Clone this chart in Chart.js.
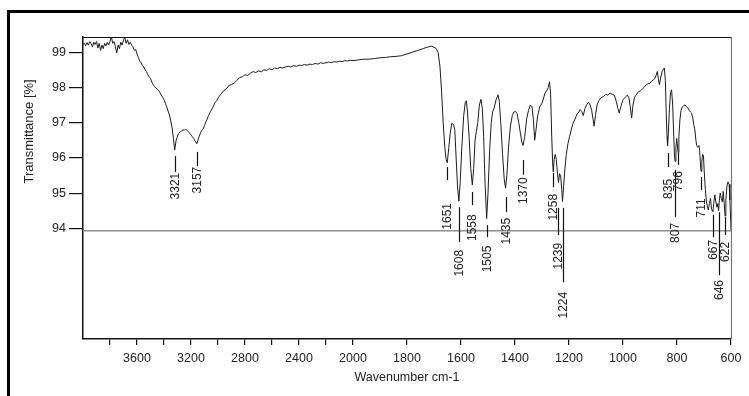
<!DOCTYPE html>
<html>
<head>
<meta charset="utf-8">
<script src="https://cdn.jsdelivr.net/npm/chart.js@4.4.1/dist/chart.umd.min.js"></script>
<style>
  html, body { margin: 0; padding: 0; background: #ffffff; }
  #wrap { width: 749px; height: 396px; position: relative; }
</style>
</head>
<body>
<div id="wrap"><canvas id="c" width="749" height="396"></canvas></div>
<script>
// ---- DATA ----
const wavenumbers = [
  4000,3990,3980,3970,3960,3950,3940,3930,3920,3910,3900,3890,3880,3870,3860,3850,3840,3830,3820,3810,
  3800,3790,3780,3770,3760,3750,3740,3730,3720,3710,3700,3690,3680,3670,3660,3650,3640,3630,3620,3610,
  3600,3590,3580,3570,3560,3550,3540,3530,3520,3510,3500,3490,3480,3470,3460,3450,3440,3430,3420,3410,
  3400,3390,3380,3370,3360,3350,3340,3330,3321,3310,3300,3290,3280,3270,3260,3250,3240,3230,3220,3210,
  3200,3190,3180,3170,3157,3150,3140,3130,3120,3110,3100,3090,3080,3070,3060,3050,3040,3030,3020,3010,
  3000,2980,2960,2940,2920,2900,2880,2860,2840,2820,2800,2780,2760,2740,2720,2700,2680,2660,2640,2620,
  2600,2580,2560,2540,2520,2500,2480,2460,2440,2420,2400,2380,2360,2340,2320,2300,2280,2260,2240,2220,
  2200,2180,2160,2140,2120,2100,2080,2060,2040,2020,2000,1980,1960,1940,1920,1900,1880,1860,1840,1820,
  1800,1780,1760,1740,1730,1720,1710,1700,1692,1685,1678,1672,1666,1660,1655,1651,1645,1640,1634,1628,
  1623,1618,1613,1608,1603,1597,1590,1584,1580,1576,1570,1564,1558,1553,1548,1543,1538,1532,1526,1521,
  1516,1511,1505,1500,1494,1488,1483,1477,1470,1463,1458,1452,1446,1440,1435,1430,1424,1417,1410,1404,
  1398,1392,1386,1380,1375,1370,1364,1357,1350,1343,1337,1332,1327,1322,1316,1308,1300,1294,1289,1283,
  1277,1272,1268,1264,1260,1258,1255,1251,1247,1243,1239,1235,1231,1227,1224,1220,1215,1210,1204,1198,
  1190,1184,1178,1170,1163,1159,1153,1147,1141,1134,1128,1122,1116,1111,1107,1102,1096,1090,1082,1073,
  1064,1056,1048,1040,1032,1025,1019,1014,1008,1000,992,984,978,973,968,963,957,950,943,936,
  929,922,915,908,900,894,888,882,877,873,869,865,860,855,850,847,843,840,837,835,
  832,828,824,820,816,812,809,807,804,801,799,796,793,789,785,780,775,770,765,760,
  755,750,746,742,738,734,730,727,723,719,716,713,711,708,705,702,699,695,691,687,
  684,680,676,672,669,667,664,660,656,652,649,646,643,640,636,632,629,625,622,619,
  615,611,607,604,601,600
];
const transmittance = [
  99.22,99.25,99.18,99.27,99.20,99.30,99.24,99.15,99.28,99.22,99.30,99.12,99.25,99.05,99.20,99.10,99.25,99.18,99.28,99.20,
  99.30,99.44,99.25,99.30,99.15,98.98,99.20,99.10,99.28,99.20,99.35,99.42,99.25,99.35,99.22,99.28,99.20,99.15,99.05,99.08,
  98.95,98.85,98.75,98.70,98.62,98.58,98.50,98.45,98.36,98.30,98.25,98.15,98.08,98.02,97.98,97.95,97.92,97.85,97.78,97.72,
  97.65,97.55,97.45,97.33,97.22,97.05,96.85,96.55,96.22,96.50,96.62,96.70,96.74,96.76,96.80,96.78,96.82,96.78,96.74,96.70,
  96.65,96.60,96.55,96.48,96.40,96.48,96.60,96.70,96.78,96.82,96.92,97.02,97.10,97.20,97.28,97.35,97.42,97.50,97.58,97.62,
  97.70,97.80,97.90,97.95,98.05,98.08,98.12,98.20,98.28,98.30,98.36,98.34,98.40,98.45,98.42,98.47,98.44,98.50,98.48,98.53,
  98.50,98.55,98.53,98.57,98.55,98.58,98.60,98.58,98.62,98.60,98.63,98.62,98.65,98.63,98.66,98.65,98.68,98.66,98.70,98.68,
  98.70,98.72,98.70,98.73,98.72,98.74,98.73,98.76,98.75,98.77,98.76,98.78,98.80,98.80,98.82,98.84,98.85,98.87,98.88,98.90,
  98.95,99.00,99.05,99.10,99.13,99.15,99.17,99.14,99.10,99.00,98.60,97.90,97.00,96.30,95.95,95.86,96.30,96.70,96.98,96.95,
  96.80,96.00,95.20,94.77,95.30,96.30,97.20,97.58,97.62,97.30,96.60,95.70,95.23,95.70,96.50,96.75,97.00,97.50,97.66,97.40,
  96.60,95.30,94.28,95.00,96.20,97.00,97.30,97.42,97.65,97.79,97.60,96.90,96.10,95.40,95.14,95.50,96.30,96.90,97.20,97.30,
  97.32,97.25,97.00,96.70,96.45,96.35,96.60,97.10,97.35,97.50,97.45,97.10,96.50,96.80,97.20,97.45,97.55,97.70,97.84,97.90,
  98.00,98.16,97.80,96.60,95.75,95.60,95.95,96.10,95.95,95.60,95.30,95.55,95.50,95.10,94.76,95.20,95.70,96.10,96.40,96.60,
  96.85,97.00,97.10,97.25,97.30,97.37,97.32,97.20,97.40,97.52,97.58,97.50,97.35,97.10,96.90,97.20,97.50,97.62,97.70,97.74,
  97.80,97.78,97.84,97.80,97.78,97.60,97.40,97.27,97.45,97.65,97.72,97.78,97.70,97.45,97.13,97.50,97.72,97.80,97.88,97.90,
  97.95,98.00,98.07,98.10,98.12,98.18,98.21,98.25,98.35,98.45,98.25,98.07,98.30,98.45,98.52,98.55,98.20,97.30,96.60,96.34,
  96.70,97.40,97.85,97.93,97.50,96.60,96.00,95.90,96.30,96.55,96.40,96.15,96.60,97.10,97.35,97.45,97.48,97.50,97.45,97.42,
  97.35,97.30,97.27,97.15,96.95,96.80,96.50,96.35,96.30,96.35,96.20,95.80,95.62,95.90,96.10,96.05,95.60,95.10,94.75,94.60,
  94.52,94.70,94.85,94.55,94.50,94.48,94.70,94.95,94.75,94.60,94.70,94.50,94.80,95.00,94.85,94.75,95.05,94.70,94.35,94.80,
  95.20,95.32,95.25,94.80,94.20,93.95
];
const xTickWavenumbers = [3800,3600,3400,3200,3000,2800,2600,2400,2200,2000,1800,1600,1400,1200,1000,800,600];
const xTickLabels = ['','3600','','3200','','2800','','2400','','2000','1800','1600','1400','1200','1000','800','600'];
const yTickValues = [94,95,96,97,98,99];
const baselineValue = 93.93;

const peakLabels = ['3321','3157','1651','1608','1558','1505','1435','1370','1258','1239','1224','835','807','796','711','667','646','622'];
const peakWavenumbers = [3321,3157,1651,1608,1558,1505,1435,1370,1258,1239,1224,835,807,796,711,667,646,622];
const peakLineTop =    [96.05,96.17,95.74,94.60,95.03,94.09,94.89,95.94,95.57,94.58,94.58,96.14,95.66,96.14,95.46,94.38,94.46,94.32];
const peakLineBottom = [95.60,95.77,95.37,93.61,94.66,93.75,94.46,95.52,95.17,93.81,92.47,95.74,94.32,95.80,95.09,93.75,92.67,93.81];
const peakTextY =      [95.20,95.37,94.34,93.01,94.02,93.13,93.92,95.07,94.60,93.21,91.82,95.12,93.87,95.34,94.58,93.39,92.25,93.33];

// compressed axis above 2000 cm-1 (half scale)
function toAxis(w) { return w <= 2000 ? w : 2000 + (w - 2000) / 2; }

const points = wavenumbers.map((w, i) => ({ x: toAxis(w), y: transmittance[i] }));

const FONT = "'Liberation Sans', Arial, sans-serif";
const TXT = '#222';

const decor = {
  id: 'decor',
  afterDatasetsDraw(chart) {
    const ctx = chart.ctx;
    const xs = chart.scales.x, ys = chart.scales.y;
    const a = chart.chartArea;
    ctx.save();
    // baseline
    const by = ys.getPixelForValue(baselineValue);
    ctx.strokeStyle = '#8c8c8c';
    ctx.lineWidth = 1.6;
    ctx.beginPath(); ctx.moveTo(a.left, by); ctx.lineTo(a.right, by); ctx.stroke();
    // top and right borders of plot box
    ctx.strokeStyle = '#111';
    ctx.lineWidth = 1.2;
    ctx.beginPath(); ctx.moveTo(a.left, a.top + 0.5); ctx.lineTo(a.right, a.top + 0.5); ctx.stroke();
    ctx.strokeStyle = '#777';
    ctx.beginPath(); ctx.moveTo(a.right + 0.5, a.top); ctx.lineTo(a.right + 0.5, a.bottom); ctx.stroke();
    // peak annotations
    ctx.strokeStyle = '#111';
    ctx.lineWidth = 1.2;
    ctx.fillStyle = TXT;
    ctx.font = '12px ' + FONT;
    ctx.textAlign = 'center';
    ctx.textBaseline = 'middle';
    peakLabels.forEach((lab, i) => {
      const px = Math.round(xs.getPixelForValue(toAxis(peakWavenumbers[i]))) + 0.5;
      const y1 = ys.getPixelForValue(peakLineTop[i]);
      const y2 = ys.getPixelForValue(peakLineBottom[i]);
      ctx.beginPath(); ctx.moveTo(px, y1); ctx.lineTo(px, y2); ctx.stroke();
      const ty = ys.getPixelForValue(peakTextY[i]);
      ctx.save();
      ctx.translate(px, ty);
      ctx.rotate(-Math.PI / 2);
      ctx.fillText(lab, 0, 0);
      ctx.restore();
    });
    // axis titles
    ctx.font = '13px ' + FONT;
    ctx.save();
    ctx.translate(29, ys.getPixelForValue(96.75));
    ctx.rotate(-Math.PI / 2);
    ctx.fillText('Transmittance [%]', 0, 0);
    ctx.restore();
    ctx.font = '12.5px ' + FONT;
    ctx.fillText('Wavenumber cm-1', (a.left + a.right) / 2, 378);
    // outer frame
    ctx.strokeStyle = '#000';
    ctx.lineWidth = 3;
    ctx.beginPath();
    ctx.moveTo(8.5, chart.height); ctx.lineTo(8.5, 11.5); ctx.lineTo(chart.width, 11.5);
    ctx.stroke();
    ctx.restore();
  }
};

new Chart(document.getElementById('c'), {
  type: 'line',
  data: {
    datasets: [{
      data: points,
      borderColor: '#1c1c1c',
      borderWidth: 1,
      pointRadius: 0,
      tension: 0,
      fill: false
    }]
  },
  options: {
    responsive: false,
    animation: false,
    devicePixelRatio: 1,
    parsing: true,
    layout: { padding: { top: 37, right: 18, left: 0, bottom: 0 } },
    plugins: { legend: { display: false }, tooltip: { enabled: false } },
    scales: {
      x: {
        type: 'linear',
        min: toAxis(600),
        max: toAxis(4000),
        reverse: true,
        afterFit(s) { s.height = 57; },
        afterBuildTicks(s) { s.ticks = xTickWavenumbers.map(w => ({ value: toAxis(w) })); },
        grid: { drawOnChartArea: false, drawTicks: true, tickLength: 6, color: '#111', lineWidth: 1.2 },
        border: { display: true, color: '#111', width: 1.5 },
        ticks: {
          autoSkip: false, maxRotation: 0, minRotation: 0, padding: 6,
          color: TXT, font: { family: FONT, size: 12.5 },
          callback: (v, i) => xTickLabels[i]
        }
      },
      y: {
        type: 'linear',
        min: 90.86,
        max: 99.43,
        afterFit(s) { s.width = 83; },
        afterBuildTicks(s) { s.ticks = yTickValues.map(v => ({ value: v })); },
        grid: { drawOnChartArea: false, drawTicks: true, tickLength: 14, color: '#111', lineWidth: 1.2 },
        border: { display: true, color: '#111', width: 1.5 },
        ticks: {
          padding: 3, color: TXT, font: { family: FONT, size: 12.5 },
          callback: v => String(v)
        }
      }
    }
  },
  plugins: [decor]
});
</script>
</body>
</html>
